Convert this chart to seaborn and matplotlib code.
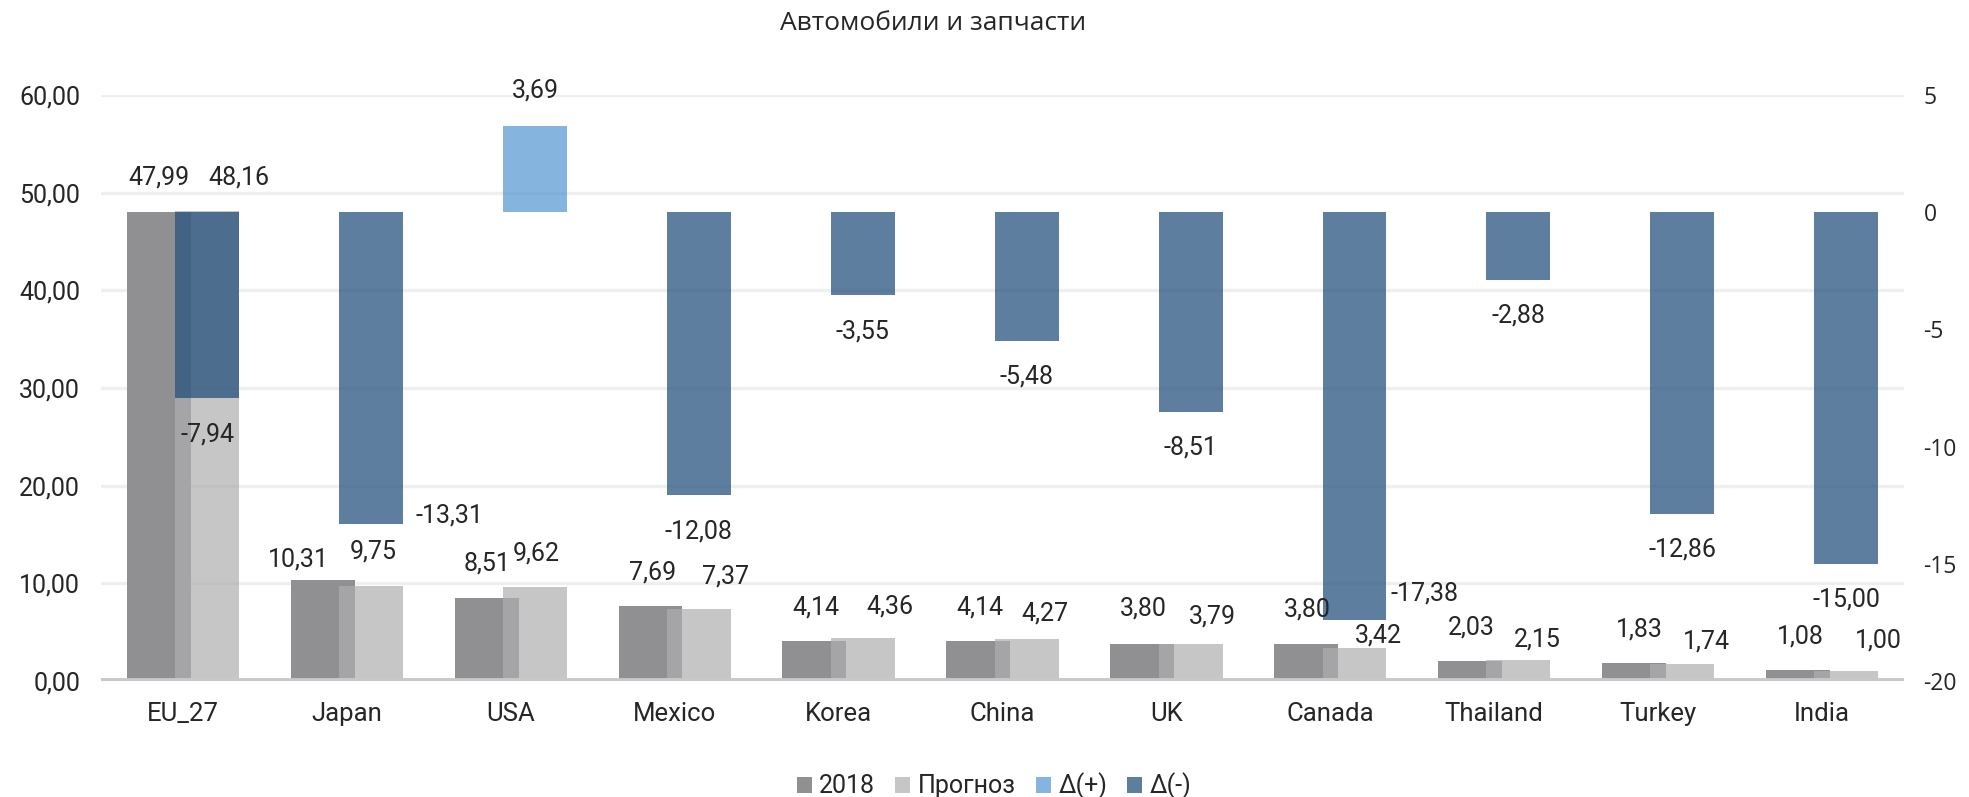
import numpy as np
import pandas as pd
import matplotlib
matplotlib.use("Agg")
import matplotlib.pyplot as plt
from matplotlib.patches import Patch
import seaborn as sns

# ---------------- data ----------------
categories = ["EU_27", "Japan", "USA", "Mexico", "Korea", "China", "UK",
              "Canada", "Thailand", "Turkey", "India"]
values_2018 = [47.99, 10.31, 8.51, 7.69, 4.14, 4.14, 3.80, 3.80, 2.03, 1.83, 1.08]
values_forecast = [48.16, 9.75, 9.62, 7.37, 4.36, 4.27, 3.79, 3.42, 2.15, 1.74, 1.00]
delta_plus = [np.nan, np.nan, 3.69, np.nan, np.nan, np.nan, np.nan, np.nan,
              np.nan, np.nan, np.nan]
delta_minus = [-7.94, -13.31, np.nan, -12.08, -3.55, -5.48, -8.51, -17.38,
               -2.88, -12.86, -15.00]
series_names = ["2018", "Прогноз", "Δ(+)", "Δ(-)"]
title = "Автомобили и запчасти"
left_ticks = [0, 10, 20, 30, 40, 50, 60]
right_ticks = [-20, -15, -10, -5, 0, 5]

# ---------------- style ----------------
C2018 = "#909092"
CFORE = "#aeaeb0"
CPLUS = "#5194d0"
CMINUS = "#1a4877"
ALPHA = 0.7
TEXT = "#262626"
FS = 18

# label nudges in pixels (dx, dy) – layout only
off_2018 = [(0, 35), (-24, 21), (0, 34), (2, 33), (2, 33), (2, 33), (1, 35),
            (1, 34), (1, 34), (5, 34), (3, 34)]
off_fore = [(32, 33), (2, 34), (1, 34), (27, 33), (27, 32), (18, 26), (22, 27),
            (24, 12), (19, 21), (24, 23), (32, 31)]
off_delta = [(0, -36), (78, 9), (0, 35), (0, -36), (0, -36), (0, -36), (0, -36),
             (70, 26), (0, -36), (0, -36), (0, -36)]

sns.set_theme(style="white")
plt.rcParams["font.family"] = ["Roboto", "DejaVu Sans"]
plt.rcParams["axes.unicode_minus"] = False
plt.rcParams["text.color"] = TEXT

W, H = 1969, 797
fig = plt.figure(figsize=(W / 100, H / 100), dpi=100)
ax = fig.add_axes([101 / W, 116 / H, 1803 / W, 586 / H])
ax2 = ax.twinx()

idx = np.arange(len(categories))
shift = 24.2 / 164
bw = 64 / 164

df = pd.DataFrame({
    "pos": idx,
    "cat": categories,
    "v2018": values_2018,
    "vfore": values_forecast,
    "dplus": delta_plus,
    "dminus": delta_minus,
})

sns.barplot(x=df["pos"] - shift, y=df["v2018"], native_scale=True, width=bw,
            color=C2018, saturation=1, errorbar=None, linewidth=0, ax=ax, zorder=2)
sns.barplot(x=df["pos"] + shift, y=df["vfore"], native_scale=True, width=bw,
            color=CFORE, saturation=1, errorbar=None, linewidth=0, alpha=ALPHA,
            ax=ax, zorder=3)

dp = df.dropna(subset=["dplus"])
dm = df.dropna(subset=["dminus"])
sns.barplot(x=dp["pos"] + shift, y=dp["dplus"], native_scale=True, width=bw,
            color=CPLUS, saturation=1, errorbar=None, linewidth=0, alpha=ALPHA,
            ax=ax2, zorder=2)
sns.barplot(x=dm["pos"] + shift, y=dm["dminus"], native_scale=True, width=bw,
            color=CMINUS, saturation=1, errorbar=None, linewidth=0, alpha=ALPHA,
            ax=ax2, zorder=2)

# axes setup
ax.set_ylim(0, 60)
ax2.set_ylim(-20, 5)
ax.set_xlim(-0.5, len(categories) - 0.5)
ax2.set_xlim(-0.5, len(categories) - 0.5)

ax.set_yticks(left_ticks)
ax.set_yticklabels([f"{v:.2f}".replace(".", ",") for v in left_ticks],
                   fontsize=FS, color=TEXT)
ax.set_xticks(idx)
ax.set_xticklabels(categories, fontsize=18.5, color=TEXT)
ax2.set_yticks(right_ticks)
ax2.set_yticklabels([str(v) for v in right_ticks], fontsize=16.5, color=TEXT,
                    family=["Open Sans", "DejaVu Sans"])
ax.tick_params(axis="y", length=0, pad=15)
ax.tick_params(axis="x", length=0, pad=15)
ax2.tick_params(axis="y", length=0, pad=14)
for a in (ax, ax2):
    a.set_xlabel("")
    a.set_ylabel("")
    for s in a.spines.values():
        s.set_visible(False)

ax.grid(axis="y", color="#efeff0", linewidth=2.4, zorder=0)
ax.grid(axis="x", visible=False)
ax2.grid(False)
ax.set_axisbelow(True)
ax.axhline(0, color="#c8c8ca", linewidth=4.2, zorder=4)

# data labels
def fmt(v):
    return f"{v:.2f}".replace(".", ",")

for i in range(len(categories)):
    dx, dy = off_2018[i]
    ax2.annotate(fmt(values_2018[i]), xy=(i - shift, values_2018[i]),
                 xycoords=ax.transData, xytext=(dx * 0.72, dy * 0.72),
                 textcoords="offset points", ha="center", va="center",
                 fontsize=FS, color=TEXT, zorder=10)
    dx, dy = off_fore[i]
    ax2.annotate(fmt(values_forecast[i]), xy=(i + shift, values_forecast[i]),
                 xycoords=ax.transData, xytext=(dx * 0.72, dy * 0.72),
                 textcoords="offset points", ha="center", va="center",
                 fontsize=FS, color=TEXT, zorder=10)
    d = delta_plus[i] if not np.isnan(delta_plus[i]) else delta_minus[i]
    dx, dy = off_delta[i]
    ax2.annotate(fmt(d), xy=(i + shift, d), xytext=(dx * 0.72, dy * 0.72),
                 textcoords="offset points", ha="center", va="center",
                 fontsize=FS, color=TEXT, zorder=10)

# title
fig.text(933 / W, 1 - 23 / H, title, ha="center", va="center", fontsize=19,
         color=TEXT, family=["Open Sans", "DejaVu Sans"])

# legend
handles = [
    Patch(facecolor=C2018, edgecolor="none"),
    Patch(facecolor=CFORE, alpha=ALPHA, edgecolor="none"),
    Patch(facecolor=CPLUS, alpha=ALPHA, edgecolor="none"),
    Patch(facecolor=CMINUS, alpha=ALPHA, edgecolor="none"),
]
fig.legend(handles, series_names, loc="center", bbox_to_anchor=(994 / W, 1 - 786 / H),
           ncol=4, frameon=False, fontsize=FS, handlelength=0.6, handleheight=0.6,
           handletextpad=0.3, columnspacing=0.8, labelcolor=TEXT)

fig.savefig("out.png", dpi=100, facecolor="white")
